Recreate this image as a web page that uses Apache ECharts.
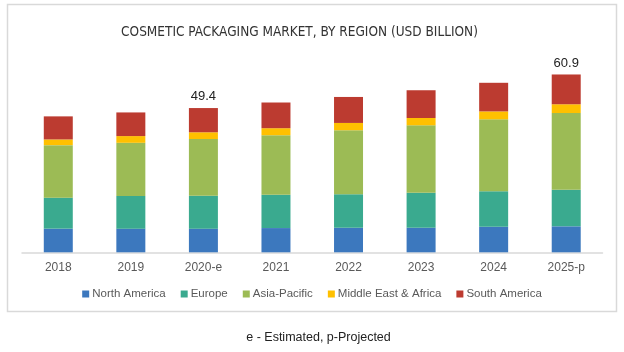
<!DOCTYPE html>
<html>
<head>
<meta charset="utf-8">
<script src="https://cdn.jsdelivr.net/npm/echarts@6/dist/echarts.min.js"></script>
<style>html,body{margin:0;padding:0;background:#fff;}#c{width:624px;height:352px;}</style>
</head>
<body>
<div id="c"></div>
<script>
var categories = ['2018', '2019', '2020-e', '2021', '2022', '2023', '2024', '2025-p'];
var northAmerica = [8.1, 8.1, 8.1, 8.3, 8.4, 8.4, 8.75, 8.9];
var europe = [10.6, 11.2, 11.3, 11.4, 11.5, 12.0, 12.2, 12.5];
var asiaPacific = [18.0, 18.2, 19.4, 20.4, 21.9, 23.1, 24.6, 26.3];
var middleEastAfrica = [1.95, 2.3, 2.3, 2.4, 2.5, 2.5, 2.7, 3.0];
var southAmerica = [7.9, 8.1, 8.3, 8.8, 8.9, 9.5, 9.8, 10.2];
var totalLabels = ['', '', '49.4', '', '', '', '', '60.9'];

var font = 'Arial, "Liberation Sans", sans-serif';
var chart = echarts.init(document.getElementById('c'));
function s(name, data, color, withLabel) {
  var o = {
    name: name, type: 'bar', stack: 'total', data: data, barWidth: 29,
    itemStyle: { color: color }, emphasis: { disabled: true }
  };
  if (withLabel) {
    o.label = {
      show: true, position: 'top', distance: 5, color: '#222', fontSize: 13, fontFamily: font,
      formatter: function (p) { return totalLabels[p.dataIndex]; }
    };
  }
  return o;
}
chart.setOption({
  animation: false,
  graphic: [
    { type: 'rect', shape: { x: 7.5, y: 4.5, width: 609, height: 307 }, style: { fill: 'none', stroke: '#d9d9d9', lineWidth: 1.5 }, silent: true, z: -1 },
    { type: 'text', x: 299.5, y: 32, style: { text: 'COSMETIC PACKAGING MARKET, BY REGION (USD BILLION)', font: '13.5px "DejaVu Sans Condensed", "Liberation Sans Narrow", Arial, sans-serif', fill: '#333', textAlign: 'center', textVerticalAlign: 'middle' } },
    { type: 'text', x: 318.5, y: 338, style: { text: 'e - Estimated, p-Projected', font: '12.5px ' + font, fill: '#222', textAlign: 'center', textVerticalAlign: 'middle' } }
  ],
  legend: {
    top: 283, left: 'center', itemWidth: 7, itemHeight: 7, itemGap: 15,
    icon: 'rect',
    textStyle: { fontFamily: font, fontSize: 11.5, color: '#595959', padding: [0, 0, 0, -2] },
    data: ['North America', 'Europe', 'Asia-Pacific', 'Middle East & Africa', 'South America']
  },
  grid: { left: 22, right: 21.5, top: 47.9, bottom: 99.7 },
  xAxis: {
    type: 'category', data: categories,
    axisLine: { lineStyle: { color: '#d9d9d9', width: 1.5 } },
    axisTick: { show: false },
    axisLabel: { color: '#595959', fontSize: 12, fontFamily: font, margin: 9 }
  },
  yAxis: { type: 'value', min: 0, max: 70, show: false, splitLine: { show: false } },
  series: [
    s('North America', northAmerica, '#3c78be'),
    s('Europe', europe, '#3aaa8f'),
    s('Asia-Pacific', asiaPacific, '#9cbb55'),
    s('Middle East & Africa', middleEastAfrica, '#ffc000'),
    s('South America', southAmerica, '#bc3b30', true)
  ]
});
</script>
</body>
</html>
